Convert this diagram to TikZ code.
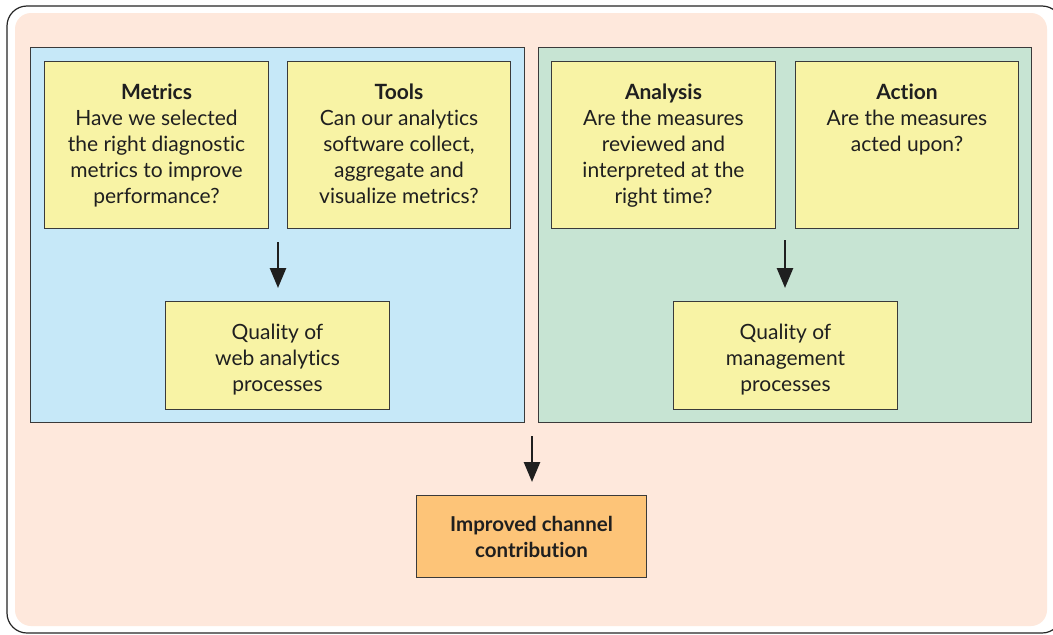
\documentclass[tikz,border=0pt]{standalone}
\usepackage{fontspec}
\setmainfont{Lato}[Ligatures=NoCommon]
\usetikzlibrary{arrows.meta}
\definecolor{peach}{HTML}{FEE8DC}
\definecolor{pblue}{HTML}{C6E8F8}
\definecolor{pgreen}{HTML}{C7E4D3}
\definecolor{pyellow}{HTML}{F8F3A5}
\definecolor{porange}{HTML}{FDC478}
\definecolor{edge}{HTML}{3A3A3A}
\tikzset{
  panel/.style={draw=edge, line width=1pt, inner sep=0pt, outer sep=0pt},
  ybox/.style={draw=edge, line width=1pt, fill=pyellow, align=center, font=\fontsize{21}{26}\selectfont, text=black!88},
  btext/.style={align=center, font=\fontsize{21}{26}\selectfont, text=black!88, inner sep=0pt},
  obox/.style={draw=edge, line width=1pt, fill=porange, align=center, font=\fontsize{20.5}{26}\selectfont\bfseries, text=black!88},
  arr/.style={-{Triangle[length=20pt,width=16pt]}, line width=2.6pt, draw=black!88}
}
\begin{document}
\begin{tikzpicture}[x=1pt,y=-1pt]
\useasboundingbox (0,0) rectangle (1053,635);
\fill[white] (0,0) rectangle (1053,635);
\draw[line width=1.2pt, draw=black!85, rounded corners=20pt] (7,6) rectangle (1062,633);
\fill[peach, rounded corners=16pt] (15,13) rectangle (1047,626);
% panels
\draw[panel, fill=pblue] (30,47) rectangle (524,422);
\draw[panel, fill=pgreen] (538,47) rectangle (1031,422);
% yellow boxes
\node[ybox, minimum width=224pt, minimum height=167pt, anchor=north west, inner sep=0pt] (metrics) at (44,61) {};
\node[anchor=north, btext] at ([yshift=-23pt]metrics.north) {\textbf{Metrics}\\Have we selected\\the right diagnostic\\metrics to improve\\performance?};
\node[ybox, minimum width=223pt, minimum height=167pt, anchor=north west, inner sep=0pt] (tools) at (287,61) {};
\node[anchor=north, btext] at ([yshift=-23pt]tools.north) {\textbf{Tools}\\Can our analytics\\software collect,\\aggregate and\\visualize metrics?};
\node[ybox, minimum width=224pt, minimum height=167pt, anchor=north west, inner sep=0pt] (analysis) at (551,61) {};
\node[anchor=north, btext] at ([yshift=-23pt]analysis.north) {\textbf{Analysis}\\Are the measures\\reviewed and\\interpreted at the\\right time?};
\node[ybox, minimum width=223pt, minimum height=167pt, anchor=north west, inner sep=0pt] (action) at (795,61) {};
\node[anchor=north, btext] at ([yshift=-23pt]action.north) {\textbf{Action}\\Are the measures\\acted upon?};
% quality boxes
\node[ybox, minimum width=224pt, minimum height=108pt, anchor=north west, inner sep=0pt] (qweb) at (165,301) {};
\node[btext] at ([yshift=-4pt]qweb.center) {Quality of\\web analytics\\processes};
\node[ybox, minimum width=224pt, minimum height=108pt, anchor=north west, inner sep=0pt] (qman) at (673,301) {};
\node[btext] at ([yshift=-4pt]qman.center) {Quality of\\management\\processes};
% orange
\node[obox, minimum width=230pt, minimum height=82pt, anchor=north west, inner sep=0pt] (imp) at (416,495) {Improved channel\\contribution};
% arrows
\coordinate (a1) at (278,242);
\coordinate (a2) at (785,240);
\coordinate (a3) at (532,436);
\draw[arr] (a1) -- (a1 |- 0,288);
\draw[arr] (a2) -- (a2 |- 0,288);
\draw[arr] (a3) -- (a3 |- 0,482);
\end{tikzpicture}
\end{document}
